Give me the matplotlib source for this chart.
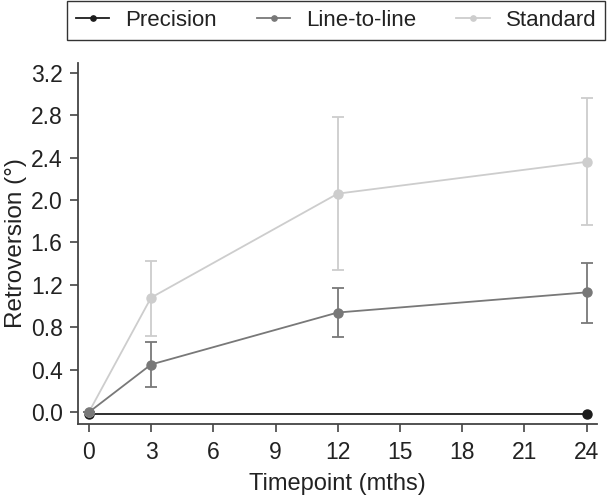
import matplotlib
matplotlib.use("Agg")
import matplotlib.pyplot as plt
from matplotlib.lines import Line2D

plt.rcParams['font.family'] = ['Liberation Sans', 'DejaVu Sans']

timepoints = [0, 3, 12, 24]
precision_x = [0, 24]
precision_y = [-0.02, -0.02]
l2l_y = [0.0, 0.45, 0.94, 1.13]
l2l_lo = [0.0, 0.24, 0.71, 0.84]
l2l_hi = [0.0, 0.66, 1.17, 1.41]
std_y = [0.0, 1.08, 2.06, 2.36]
std_lo = [0.0, 0.72, 1.34, 1.76]
std_hi = [0.0, 1.43, 2.78, 2.96]
xticks = [0, 3, 6, 9, 12, 15, 18, 21, 24]
yticks = [0.0, 0.4, 0.8, 1.2, 1.6, 2.0, 2.4, 2.8, 3.2]
series_names = ['Precision', 'Line-to-line', 'Standard']

fig = plt.figure(figsize=(6.08, 4.97), dpi=100)
ax = fig.add_axes([0.128, 0.147, 0.854, 0.726])

c_prec, c_l2l, c_std = '#1c1c1c', '#787878', '#cdcdcd'

def err(y, lo, hi):
    return [[a - b for a, b in zip(y, lo)], [b - a for a, b in zip(y, hi)]]

ax.plot(precision_x, precision_y, color=c_prec, marker='o', ms=6.5, lw=1.3, zorder=1)
ax.errorbar(timepoints, l2l_y, yerr=err(l2l_y, l2l_lo, l2l_hi), color=c_l2l,
            marker='o', ms=6.5, lw=1.3, capsize=4.3, elinewidth=1.3, capthick=1.3,
            zorder=3)
ax.errorbar(timepoints, std_y, yerr=err(std_y, std_lo, std_hi), color=c_std,
            marker='o', ms=6.5, lw=1.3, capsize=4.3, elinewidth=1.3, capthick=1.3,
            zorder=2)

ax.set_xlim(-0.53, 24.5)
ax.set_ylim(-0.11, 3.29)
ax.set_xticks(xticks)
ax.set_xticklabels([str(t) for t in xticks])
ax.set_yticks(yticks)
ax.set_yticklabels([f'{v:.1f}' for v in yticks])

for s in ['top', 'right']:
    ax.spines[s].set_visible(False)
for s in ['left', 'bottom']:
    ax.spines[s].set_color('#444444')
    ax.spines[s].set_linewidth(1.3)
ax.tick_params(axis='both', length=6, width=1.2, color='#444444',
               labelsize=16.5, labelcolor='#222222')
ax.tick_params(axis='y', pad=5)
ax.tick_params(axis='x', pad=6)

ax.set_xlabel('Timepoint (mths)', fontsize=17, color='#222222', labelpad=6.5)
ax.set_ylabel('Retroversion (°)', fontsize=17.5, color='#222222', labelpad=3)

handles = [Line2D([], [], color=c, marker='o', ms=3.8, lw=1.3)
           for c in (c_prec, c_l2l, c_std)]
leg = fig.legend(handles, series_names, loc='upper left',
                 bbox_to_anchor=(67/608, 1 - 1/497), ncol=3, frameon=True, fancybox=False,
                 edgecolor='black', fontsize=16, handlelength=1.5, columnspacing=1.8,
                 borderpad=0.4, handletextpad=0.72, borderaxespad=0)
leg.get_frame().set_linewidth(1.0)
for t in leg.get_texts():
    t.set_color('#222222')

fig.savefig('out.png', dpi=100)
